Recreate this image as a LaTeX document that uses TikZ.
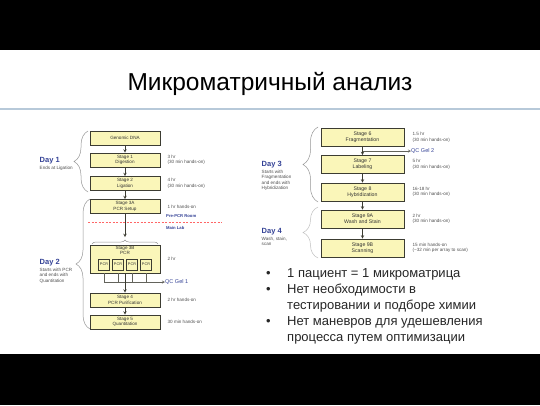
\documentclass[tikz,border=0pt]{standalone}
\usepackage{fontspec}
\setmainfont{Liberation Sans}
\usepackage{xcolor}
\usetikzlibrary{positioning}
\usetikzlibrary{arrows}
\usetikzlibrary{decorations.pathreplacing}
\definecolor{boxFill}{RGB}{250,246,185}
\definecolor{boxEdge}{RGB}{60,60,50}
\definecolor{dayCol}{RGB}{52,66,150}
\definecolor{noteCol}{RGB}{80,80,80}
\definecolor{braceCol}{RGB}{150,150,150}
\definecolor{ruleCol}{RGB}{183,201,217}
\colorlet{roomCol}{dayCol}

\tikzset{
  stagebox/.style={draw=boxEdge, fill=boxFill, line width=0.9pt, minimum width=70pt,
    minimum height=14pt, inner sep=0pt, align=center, text=black!80,
    font=\fontsize{4.6}{5.4}\selectfont},
  bigstage/.style={stagebox, minimum width=83pt, minimum height=18pt,
    font=\fontsize{5.2}{6}\selectfont},
  pcrbox/.style={draw=boxEdge, fill=boxFill, line width=0.8pt, minimum width=11pt,
    minimum height=11pt, inner sep=0pt, text=black!80, font=\fontsize{3.8}{4}\selectfont},
  flow/.style={->, draw=boxEdge, line width=0.5pt},
  thinline/.style={draw=boxEdge!80, line width=0.4pt},
  timenote/.style={anchor=west, align=left, inner sep=0pt, text=noteCol,
    font=\fontsize{4.6}{5.6}\selectfont},
  daylabel/.style={inner sep=0.5pt, text=dayCol, font=\fontsize{7.5}{8}\selectfont\bfseries},
  daynote/.style={inner sep=0.5pt, align=left, text=noteCol, font=\fontsize{4.6}{5.6}\selectfont},
  daybrace/.style={draw=braceCol, line width=0.5pt, decorate},
  qcnote/.style={anchor=west, inner sep=0pt, text=roomCol, font=\fontsize{5.5}{6}\selectfont},
  roomnote/.style={inner sep=0pt, text=roomCol, font=\fontsize{4.2}{5}\selectfont\bfseries},
  bulletline/.style={anchor=base west, inner sep=0pt, text=black!85, font=\fontsize{13}{16}\selectfont}
}

\begin{document}
\begin{tikzpicture}[x=1pt, y=-1pt, >=stealth]
%--------------------------------------------------
\useasboundingbox (0,0) rectangle (540,405);

% black bars above and below the slide
\fill[black] (0,0) rectangle (540,50);
\fill[black] (0,354) rectangle (540,405);
\fill[white] (0,50) rectangle (540,354);

% title and rule
\node[anchor=base, inner sep=0pt, font=\fontsize{24.5}{30}\selectfont] (title) at (270,90) {Микроматричный анализ};
\draw[color=ruleCol, line width=2pt] (0,109) -- (540,109);


% left workflow, days 1 and 2
\node[stagebox] (dna) at (125,138) {Genomic DNA};
\node[stagebox] (st1) at (125,160) {Stage 1\\Digestion};
\node[stagebox] (st2) at (125,183.5) {Stage 2\\Ligation};
\node[stagebox] (st3a) at (125,206.5) {Stage 3A\\PCR Setup};
\node[stagebox, minimum height=28pt] (st3b) at (125,259) {};
\node[below=1.5pt of st3b.north, inner sep=0pt, align=center, text=black!80,
  font=\fontsize{4.6}{5.4}\selectfont] (st3bTxt) {Stage 3B\\PCR};
\foreach \i/\xx in {A/104,B/118,C/132,D/146}
  \node[pcrbox] (pcr\i) at (\xx,264.5) {PCR};
\node[stagebox] (st4) at (125,300) {Stage 4\\PCR Purification};
\node[stagebox] (st5) at (125,322) {Stage 5\\Quantitation};

\node[timenote, right=7pt of st1] (tm1) {3 hr\\(30 min hands-on)};
\node[timenote, right=7pt of st2] (tm2) {4 hr\\(30 min hands-on)};
\node[timenote, right=7pt of st3a] (tm3a) {1 hr hands-on};
\node[timenote, right=7pt of st3b] (tm3b) {2 hr};
\node[timenote, right=7pt of st4] (tm4) {2 hr hands-on};
\node[timenote, right=7pt of st5] (tm5) {30 min hands-on};

% rooms
\draw[red!60, dash pattern=on 2pt off 1.5pt, line width=0.5pt] (88,222) -- (222,222);
\node[roomnote, anchor=west] (preRoom) at (166,216.5) {Pre-PCR Room};
\node[roomnote, anchor=west] (mainLab) at (166,228) {Main Lab};

\coordinate (brTip) at (125,237);
\coordinate (qcOne) at (125,282);
\node[qcnote] (gel1) at (165,282) {QC Gel 1};

\draw[flow] (dna) -- (st1);
\draw[flow] (st1) -- (st2);
\draw[flow] (st2) -- (st3a);
\draw[flow] (st3a) -- (brTip);
\draw[daybrace, decoration={brace, amplitude=4pt}] (92,244) -- (158,244);
\foreach \i in {A,B,C,D}
  \draw[thinline] (pcr\i.south |- st3b.south) -- (pcr\i.south |- qcOne);
\draw[thinline, ->] (pcrA.south |- qcOne) -- (gel1.west);
\draw[flow] (st3b) -- (st4);
\draw[flow] (st4) -- (st5);

% day labels on the left
\draw[daybrace, decoration={brace, amplitude=14pt}] (88,192) -- (88,131);
\node[daylabel, anchor=west] (day1) at (39,161) {Day 1};
\node[daynote, below right=0pt and 0pt of day1.south west] (day1Txt) {Ends at Ligation};

\draw[daybrace, decoration={brace, amplitude=14pt}] (90,329) -- (90,199);
\node[daylabel, anchor=west] (day2) at (39,263) {Day 2};
\node[daynote, below right=0pt and 0pt of day2.south west] (day2Txt) {Starts with PCR\\and ends with\\Quantitation};


% right workflow, days 3 and 4
\node[bigstage] (st6) at (362.5,137.5) {Stage 6\\Fragmentation};
\node[bigstage] (st7) at (362.5,164.5) {Stage 7\\Labeling};
\node[bigstage] (st8) at (362.5,192) {Stage 8\\Hybridization};
\node[bigstage] (st9a) at (362.5,219) {Stage 9A\\Wash and Stain};
\node[bigstage] (st9b) at (362.5,248) {Stage 9B\\Scanning};

\node[timenote, right=8pt of st6] (tm6) {1.5 hr\\(30 min hands-on)};
\node[timenote, right=8pt of st7] (tm7) {5 hr\\(30 min hands-on)};
\node[timenote, right=8pt of st8] (tm8) {16-18 hr\\(30 min hands-on)};
\node[timenote, right=8pt of st9a] (tm9a) {2 hr\\(30 min hands-on)};
\node[timenote, right=8pt of st9b] (tm9b) {15 min hands-on\\(\textasciitilde32 min per array to scan)};

\coordinate (qcTwo) at (362.5,151);
\node[qcnote] (gel2) at (411,151) {QC Gel 2};

\draw[flow] (st6) -- (st7);
\draw[flow] (st7) -- (st8);
\draw[flow] (st8) -- (st9a);
\draw[flow] (st9a) -- (st9b);
\draw[thinline, ->] (qcTwo) -- (gel2.west);

% day labels on the right
\draw[daybrace, decoration={brace, amplitude=15pt}] (318,202) -- (318,127);
\node[daylabel, anchor=west] (day3) at (261,165) {Day 3};
\node[daynote, below right=0pt and 0pt of day3.south west] (day3Txt) {Starts with\\Fragmentation\\and ends with\\Hybridization};

\draw[daybrace, draw=braceCol!60, decoration={brace, amplitude=15pt}] (318,258) -- (318,207);
\node[daylabel, anchor=west] (day4) at (261,232) {Day 4};
\node[daynote, below right=0pt and 0pt of day4.south west] (day4Txt) {Wash, stain,\\scan};


% notes
\foreach \n/\yy in {A/277.5,B/293.5,C/325.5}
  \node[bulletline] (bul\n) at (266,\yy) {•};
\node[bulletline] (txtA) at (287,277.5) {1 пациент = 1 микроматрица};
\node[bulletline] (txtB) at (287,293.5) {Нет необходимости в};
\node[bulletline] (txtB2) at (287,309.5) {тестировании и подборе химии};
\node[bulletline] (txtC) at (287,325.5) {Нет маневров для удешевления};
\node[bulletline] (txtC2) at (287,341.5) {процесса путем оптимизации};

%--------------------------------------------------
\end{tikzpicture}
\end{document}
